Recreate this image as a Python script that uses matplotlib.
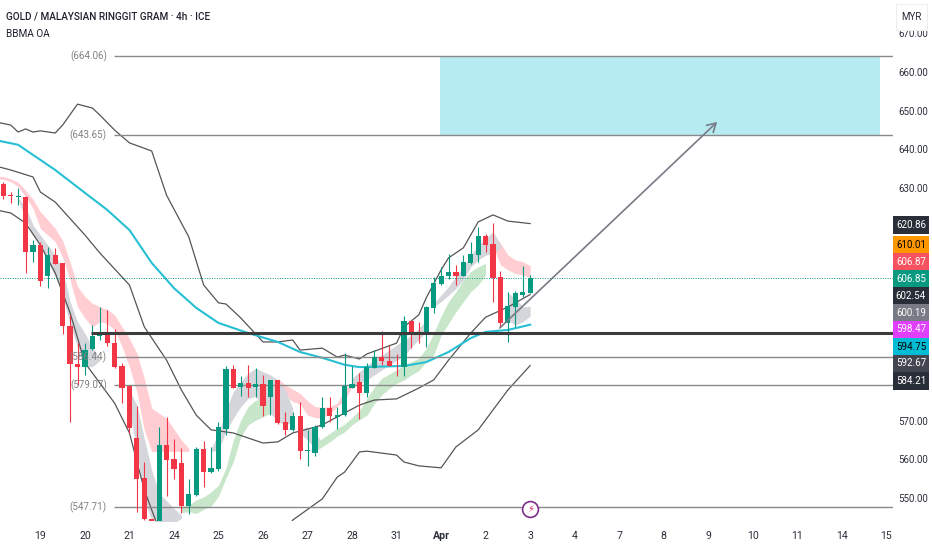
import matplotlib
matplotlib.use('Agg')
import matplotlib.pyplot as plt
from matplotlib.patches import Rectangle

plt.rcParams['font.family'] = ['Roboto', 'DejaVu Sans']

# candles, one per 4h bar
opens = [631.1, 628.2, 627.6, 627.8, 613.6, 615.3, 607.2, 612.8, 610.6, 594.4, 584.5, 583.9,
         588.6, 591.8, 592.7, 590.0, 584.2, 578.9, 565.4, 555.1, 544.7, 541.7, 563.6, 560.0,
         559.0, 548.0, 550.8, 562.6, 556.7, 557.5, 567.8, 583.4, 578.6, 579.8, 578.6, 579.4,
         576.2, 580.5, 569.7, 567.6, 571.2, 562.2, 561.5, 568.4, 573.3, 571.0, 571.4, 578.5,
         580.0, 577.0, 583.7, 586.3, 585.4, 584.4, 583.9, 595.8, 592.9, 592.5, 599.1, 605.3,
         607.3, 608.4, 607.4, 610.6, 612.8, 617.7, 615.6, 607.0, 595.3, 599.4, 602.5, 602.9]
highs = [631.7, 629.1, 630.0, 628.0, 616.6, 616.2, 614.9, 614.5, 610.6, 597.3, 589.9, 589.9,
         594.7, 599.4, 598.5, 593.6, 584.9, 578.9, 573.8, 559.4, 544.7, 568.4, 571.0, 565.2,
         562.8, 554.8, 563.1, 564.6, 563.3, 569.7, 584.1, 584.3, 581.5, 584.3, 583.5, 581.8,
         580.6, 580.6, 572.3, 572.3, 574.9, 567.6, 568.9, 576.2, 576.2, 573.4, 587.4, 584.1,
         582.4, 584.8, 588.2, 593.1, 589.5, 587.2, 597.0, 596.0, 595.5, 599.6, 607.0, 609.7,
         613.0, 610.2, 612.8, 616.0, 619.9, 618.3, 620.9, 608.5, 603.1, 603.5, 609.9, 607.6]
lows = [627.2, 626.3, 625.7, 608.2, 611.0, 604.8, 604.3, 610.4, 592.4, 569.7, 579.2, 581.8,
        588.2, 590.8, 589.3, 583.7, 574.6, 566.7, 546.5, 544.3, 542.2, 540.0, 550.5, 554.8,
        546.2, 546.0, 550.5, 552.9, 556.5, 557.0, 566.3, 578.3, 576.3, 576.2, 576.2, 571.2,
        571.4, 569.1, 566.3, 567.4, 560.2, 558.3, 560.9, 568.2, 569.7, 567.7, 571.2, 578.3,
        570.3, 576.2, 583.5, 584.3, 584.0, 581.5, 581.5, 588.7, 589.9, 589.1, 597.7, 605.1,
        606.5, 605.0, 607.3, 610.4, 611.0, 613.6, 600.7, 594.2, 590.4, 594.2, 602.0, 602.9]
closes = [628.1, 628.0, 628.0, 613.6, 615.3, 606.1, 612.8, 610.4, 594.4, 584.5, 583.9, 588.2,
          591.8, 592.7, 589.9, 583.9, 578.3, 568.0, 554.9, 544.7, 542.6, 563.6, 559.8, 557.5,
          548.0, 551.0, 562.6, 556.7, 557.7, 568.3, 583.4, 578.5, 579.8, 578.5, 579.5, 573.8,
          580.5, 569.3, 567.6, 571.3, 562.2, 562.4, 568.4, 573.3, 571.2, 571.5, 578.9, 579.4,
          577.0, 583.9, 586.3, 585.3, 584.2, 584.3, 595.8, 592.7, 592.4, 599.4, 605.6, 607.3,
          608.4, 607.3, 610.9, 613.0, 617.7, 615.3, 606.7, 595.3, 599.6, 602.9, 603.1, 606.85]

# bands and moving average
upper_x = [-1, 1, 2, 3, 4, 5, 7, 8, 10, 12, 13, 15, 17, 20, 21, 22, 25, 27, 29, 30, 32, 35, 37,
           39, 40, 43, 45, 46, 48, 49, 53, 54, 56, 57, 59, 60, 62, 64, 66, 68, 71]
upper_y = [647.1, 646.3, 644.5, 645.3, 644.5, 644.8, 644.25, 646.3, 651.7, 650.7, 648.9, 645.0,
           641.7, 639.6, 633.9, 628.2, 617.4, 605.0, 600.4, 600.1, 596.5, 590.3, 590.3, 590.8,
           588.2, 588.7, 586.4, 586.9, 585.9, 587.2, 590.0, 594.2, 597.3, 601.7, 608.9, 612.0,
           614.6, 621.3, 623.1, 621.5, 620.86]
mid_x = [-1, 1, 4, 5, 7, 11, 13, 17, 19, 22, 24, 26, 28, 31, 35, 37, 39, 42, 43, 48, 50, 53,
         56, 58, 60, 63, 65, 68, 71]
mid_y = [635.7, 634.7, 632.9, 629.0, 626.4, 617.9, 613.3, 605.0, 594.2, 585.6, 577.9, 571.4,
         567.6, 566.8, 564.2, 564.5, 566.8, 568.3, 568.9, 574.0, 575.3, 575.6, 578.4, 580.5,
         585.6, 592.6, 596.7, 599.3, 602.54]
lower_x = [-1, 1, 3, 5, 7, 9, 11, 13, 15, 17, 19, 21, 33, 39, 43, 45, 46, 48, 49, 53, 54, 56,
           59, 61, 64, 68, 71]
lower_y = [624.4, 623.6, 621.0, 615.3, 608.1, 597.8, 584.9, 579.7, 574.5, 566.8, 552.1, 541.8,
           526.3, 544.3, 549.8, 555.4, 556.7, 561.9, 562.1, 561.1, 559.3, 558.3, 557.8, 563.2,
           567.6, 577.9, 584.21]
ma_x = [-1, 2, 7, 11, 14, 17, 20, 23, 26, 29, 33, 37, 40, 43, 46, 48, 54, 57, 60, 63, 65, 68, 71]
ma_y = [642.4, 641.2, 634.7, 628.8, 624.4, 619.2, 610.7, 604.2, 599.1, 595.2, 592.6, 590.3,
        587.7, 586.2, 584.4, 583.8, 584.1, 585.1, 587.7, 591.3, 592.9, 593.4, 594.75]

# ribbon pieces: bar, top, bottom
red1_x = [-1, 0, 1, 2, 3, 4, 5, 6, 7, 8, 9, 10, 11, 12, 13, 14, 15, 16, 17, 18, 19, 20, 22, 24, 25]
red1_hi = [633.15, 633.0, 632.4, 631.5, 629.5, 627.1, 623.9, 621.8, 619.6, 616.5, 611.0, 604.6, 602.0,
           600.3, 599.4, 598.7, 597.3, 594.2, 591.2, 587.4, 580.9, 573.2, 570.6, 565.0, 562.8]
red1_lo = [632.46, 632.3, 631.7, 630.4, 627.8, 624.8, 619.6, 617.9, 616.2, 612.1, 606.3, 599.4, 596.4,
           594.2, 595.5, 595.1, 593.4, 589.1, 583.9, 577.5, 567.6, 562.0, 562.0, 562.0, 562.0]
red2_x = [37, 38, 39, 40, 41, 42, 43, 44, 45, 46, 47, 48, 49]
red2_hi = [580.9, 579.2, 578.1, 577.0, 575.1, 573.6, 573.4, 573.6, 574.5, 577.9, 580.0, 582.6, 583.5]
red2_lo = [579.2, 576.6, 574.9, 574.3, 571.4, 570.8, 570.6, 571.9, 573.6, 575.3, 578.8, 580.0, 583.1]
red3_x = [66, 67, 68, 69, 70, 71]
red3_hi = [618.4, 615.8, 612.8, 611.5, 611.0, 610.01]
red3_lo = [614.9, 610.2, 608.9, 608.0, 607.6, 606.87]

gray1_x = [2, 3, 4, 5, 6, 7, 8, 9, 10, 11, 12, 13]
gray1_hi = [627.4, 625.2, 620.5, 617.9, 615.3, 612.8, 608.9, 600.7, 595.5, 592.5, 589.1, 586.1]
gray1_lo = [627.0, 622.2, 617.9, 615.3, 611.0, 607.2, 602.4, 594.7, 589.1, 583.9, 583.9, 585.5]
gray2_x = [17, 18, 19, 20, 21, 22, 23, 24]
gray2_hi = [577.9, 574.0, 565.4, 557.2, 551.2, 549.3, 547.3, 545.6]
gray2_lo = [572.7, 562.0, 549.5, 544.3, 543.5, 543.5, 543.5, 544.8]
gray3_x = [28, 29, 30, 31, 32, 33, 34, 35, 36, 37, 38, 39]
gray3_hi = [562.8, 566.7, 572.7, 577.5, 580.0, 582.2, 583.5, 582.6, 581.8, 580.5, 577.9, 573.2]
gray3_lo = [562.0, 562.4, 567.1, 570.6, 573.6, 575.7, 576.2, 573.6, 571.9, 569.7, 568.9, 569.7]
gray4_x = [40, 41, 42, 43]
gray4_hi = [567.6, 568.4, 567.1, 564.1]
gray4_lo = [566.7, 565.0, 562.8, 563.7]
gray5_x = [47, 48, 49, 50, 51, 52, 53, 54, 55, 56, 57]
gray5_hi = [580.9, 582.6, 584.3, 585.6, 586.9, 588.2, 589.5, 590.8, 592.1, 593.8, 596.0]
gray5_lo = [578.3, 579.6, 580.5, 581.8, 583.1, 584.3, 585.6, 586.5, 589.0, 591.0, 593.0]
gray6_x = [58, 59, 60, 61, 62, 63, 64, 65, 66, 67]
gray6_hi = [600.3, 602.4, 604.6, 607.2, 609.7, 612.7, 615.3, 617.0, 618.8, 615.3]
gray6_lo = [599.4, 600.7, 602.4, 604.1, 606.3, 609.7, 611.5, 612.7, 613.2, 614.5]
gray7_x = [68, 69, 70, 71]
gray7_hi = [603.0, 601.6, 599.4, 599.5]
gray7_lo = [595.9, 594.7, 595.5, 597.0]

green1_x = [24, 25, 26, 27, 28, 29, 30, 31, 32, 33, 34, 35, 36]
green1_hi = [547.8, 548.2, 549.5, 550.3, 551.6, 553.3, 557.7, 565.0, 570.1, 573.6, 575.3, 575.3, 573.6]
green1_lo = [546.2, 546.5, 546.0, 547.1, 547.9, 550.5, 555.1, 559.4, 565.8, 568.9, 570.1, 571.0, 571.9]
green2_x = [42, 43, 44, 45, 46, 47, 48, 49, 50, 51, 52, 53, 54, 55, 56, 57, 58, 59, 60, 61, 62, 63, 64, 65]
green2_hi = [564.1, 565.4, 566.7, 568.0, 569.1, 570.8, 572.6, 575.7, 578.6, 580.9, 582.0, 583.1,
             584.3, 585.2, 586.1, 588.7, 592.5, 597.0, 600.7, 603.3, 606.3, 608.5, 609.7, 610.6]
green2_lo = [562.0, 563.3, 564.5, 566.0, 567.1, 568.9, 570.2, 571.4, 574.4, 576.6, 578.3, 579.6,
             580.5, 581.8, 582.9, 585.2, 586.9, 592.0, 595.1, 598.1, 600.7, 603.3, 605.0, 607.6]

# levels drawn on the chart
level_vals = [664.06, 643.65, 586.44, 579.07, 547.71]
thick_level = 592.67
last_price = 606.85
box_left, box_right = 58.85, 118.15
arrow_from = (66.9, 593.9)
arrow_to = (96.2, 647.1)

tick_pos = [5 + 6 * k for k in range(20)]
tick_names = ['19', '20', '21', '24', '25', '26', '27', '28', '31', 'Apr',
              '2', '3', '4', '7', '8', '9', '10', '11', '14', '15']
# 580 to 620 sit behind the price tags in the original
price_ticks = [550, 560, 570, 630, 640, 650, 660, 670]

tag_vals = ['620.86', '610.01', '606.87', '606.85', '602.54', '600.19', '598.47', '594.75', '592.67', '584.21']
tag_cols = ['#2a2e39', '#ff9800', '#f7525f', '#089981', '#2a2e39', '#787b86', '#e040fb', '#00bcd4', '#434651', '#2a2e39']
tag_text = ['white', 'black', 'white', 'white', 'white', 'white', 'white', 'black', 'white', 'white']
tag_ypx = [225, 244.5, 262, 279, 296, 313, 329.5, 347, 363.5, 381]

W, H = 932, 550
UP = '#089981'
DOWN = '#f23645'
fig = plt.figure(figsize=(W / 100, H / 100), dpi=100)
ax = fig.add_axes([0, 1 - 521 / H, 893 / W, 521 / H])
ax.set_xlim(-0.445, 119.9)
ax.set_ylim(544.07, 678.59)
for s in ax.spines.values():
    s.set_visible(False)

ax.add_patch(Rectangle((box_left, level_vals[1]), box_right - box_left, level_vals[0] - level_vals[1],
                       fc='#b5ebf1', ec='none', zorder=1))

for xs, hi, lo in [(red1_x, red1_hi, red1_lo), (red2_x, red2_hi, red2_lo), (red3_x, red3_hi, red3_lo)]:
    ax.fill_between(xs, hi, lo, color='#ffcdd2', lw=0, zorder=1.5)
for xs, hi, lo in [(gray1_x, gray1_hi, gray1_lo), (gray2_x, gray2_hi, gray2_lo), (gray3_x, gray3_hi, gray3_lo),
                   (gray4_x, gray4_hi, gray4_lo), (gray5_x, gray5_hi, gray5_lo), (gray6_x, gray6_hi, gray6_lo),
                   (gray7_x, gray7_hi, gray7_lo)]:
    ax.fill_between(xs, hi, lo, color='#d4d6dc', lw=0, zorder=1.5)
for xs, hi, lo in [(green1_x, green1_hi, green1_lo), (green2_x, green2_hi, green2_lo)]:
    ax.fill_between(xs, hi, lo, color='#c8e6c9', lw=0, zorder=1.5)

ax.plot(upper_x, upper_y, color='#555555', lw=0.9, zorder=2)
ax.plot(mid_x, mid_y, color='#555555', lw=0.9, zorder=2)
ax.plot(lower_x, lower_y, color='#555555', lw=0.9, zorder=2)
ax.plot(ma_x, ma_y, color='#26bfd3', lw=1.5, zorder=2.2)

# levels
for v in level_vals:
    ax.hlines(v, 14.9, 119.9, color='#8a8a8a', lw=1.0, zorder=2.5)
    ax.annotate('(%.2f)' % v, (14.9, v), xytext=(-5, 0), textcoords='offset points',
                ha='right', va='center', color='#808080', fontsize=7, zorder=4)
ax.axhline(last_price, color=UP, lw=0.7, ls=(0, (1, 1.5)), zorder=2.5)

for i in range(len(opens)):
    col = UP if closes[i] >= opens[i] else DOWN
    ax.vlines(i, lows[i], highs[i], color=col, lw=0.8, zorder=3)
    ax.bar(i, abs(closes[i] - opens[i]), bottom=min(opens[i], closes[i]), width=0.7, color=col, lw=0, zorder=3.1)

ax.hlines(thick_level, 11.8, 119.9, color='#3c3c3c', lw=2.2, zorder=5)
ax.annotate('', xy=arrow_to, xytext=arrow_from, zorder=5,
            arrowprops=dict(arrowstyle='->,head_length=0.6,head_width=0.35', color='#787b86', lw=1.2,
                            shrinkA=0, shrinkB=0))

ax.scatter([71], [547.2], s=130, facecolor='white', edgecolor='#7b2d8b', lw=1.2, zorder=6)
ax.text(71, 547.2, '\u26a1', color='#e0245e', fontsize=7, family=['DejaVu Sans'], ha='center', va='center', zorder=7)

ax.yaxis.tick_right()
ax.set_yticks(price_ticks)
ax.set_yticklabels(['%.2f' % p for p in price_ticks])
ax.set_xticks(tick_pos)
ax.set_xticklabels(tick_names)
ax.tick_params(axis='both', length=0, colors='#2a2e39')
ax.tick_params(axis='y', pad=4, labelsize=7)
ax.tick_params(axis='x', pad=7, labelsize=7.6)
for lab in ax.get_xticklabels():
    if lab.get_text() == 'Apr':
        lab.set_fontweight('bold')

fig.text(6 / W, 1 - 17 / H, 'GOLD / MALAYSIAN RINGGIT GRAM \u00b7 4h \u00b7 ICE', fontsize=7.2, color='#1e222d',
         fontweight='medium', ha='left', va='center')
fig.text(6 / W, 1 - 34 / H, 'BBMA OA', fontsize=7.2, color='#1e222d', ha='left', va='center')

# price tags on the right
for v, c, t, y in zip(tag_vals, tag_cols, tag_text, tag_ypx):
    fig.add_artist(Rectangle((893 / W, 1 - (y + 9) / H), 36 / W, 18 / H, transform=fig.transFigure, fc=c, ec='none'))
    fig.text(911 / W, 1 - y / H, v, color=t, fontsize=7, ha='center', va='center', zorder=3)

fig.add_artist(Rectangle((896 / W, 1 - 30 / H), 31 / W, 26 / H, transform=fig.transFigure,
                         fc='white', ec='#eeeeee', lw=0.8))
fig.text(911 / W, 1 - 17 / H, 'MYR', color='#2a2e39', fontsize=7, ha='center', va='center', zorder=3)

fig.savefig('out.png', dpi=100)
